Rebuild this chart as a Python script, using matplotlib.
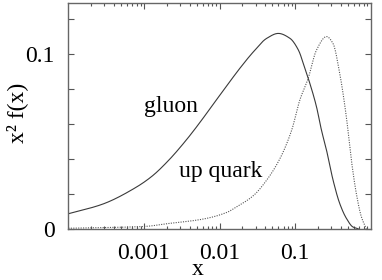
import numpy as np
import matplotlib.pyplot as plt
from matplotlib.ticker import FixedLocator, FuncFormatter, LogLocator, NullFormatter

# ==========================================
# DATA
# ==========================================

gluon_x = [1.0e-4, 2.8e-4, 7.7e-4, 1.27e-3, 2.1e-3, 3.5e-3, 4.7e-3, 0.0113,
           0.0188, 0.028, 0.042, 0.0597, 0.085, 0.11, 0.134, 0.156,
           0.191, 0.222, 0.259, 0.316, 0.387, 0.474, 0.58, 0.68]
gluon_y = [0.0086, 0.014, 0.0235, 0.030, 0.039, 0.050, 0.057, 0.0794,
           0.0922, 0.1013, 0.109, 0.1118, 0.109, 0.1023, 0.0918, 0.0832,
           0.0698, 0.0565, 0.045, 0.0279, 0.0145, 0.006, 0.001, 0.0]

quark_x = [1.0e-4, 1.0e-3, 2.1e-3, 5.8e-3, 0.013, 0.0153, 0.028, 0.042,
           0.063, 0.0898, 0.115, 0.148, 0.191, 0.259, 0.316, 0.387,
           0.474, 0.552, 0.643, 0.748, 0.87]
quark_y = [0.0003, 0.0013, 0.003, 0.0054, 0.0097, 0.0115, 0.019, 0.0279,
           0.0403, 0.0565, 0.0737, 0.086, 0.1023, 0.110, 0.106, 0.089,
           0.064, 0.0393, 0.020, 0.0069, 0.0]

x_ticks = [0.001, 0.01, 0.1]
x_tick_labels = ["0.001", "0.01", "0.1"]
y_ticks = [0, 0.02, 0.04, 0.06, 0.08, 0.1, 0.12]
y_tick_labels = {0: "0", 0.1: "0.1"}

# ==========================================
# SMOOTH CURVES (monotone cubic in log x)
# ==========================================

def pchip(xs, ys, n=500):
    x = np.log10(xs)
    y = np.asarray(ys, float)
    h = np.diff(x)
    d = np.diff(y) / h
    m = np.zeros_like(y)
    for i in range(1, len(y) - 1):
        if d[i - 1] * d[i] > 0:
            w1 = 2 * h[i] + h[i - 1]
            w2 = h[i] + 2 * h[i - 1]
            m[i] = (w1 + w2) / (w1 / d[i - 1] + w2 / d[i])
    m[0] = d[0]
    m[-1] = d[-1]
    grid = np.linspace(x[0], x[-1], n)
    idx = np.clip(np.searchsorted(x, grid) - 1, 0, len(h) - 1)
    t = (grid - x[idx]) / h[idx]
    h00 = 2 * t**3 - 3 * t**2 + 1
    h10 = t**3 - 2 * t**2 + t
    h01 = -2 * t**3 + 3 * t**2
    h11 = t**3 - t**2
    out = (h00 * y[idx] + h10 * h[idx] * m[idx]
           + h01 * y[idx + 1] + h11 * h[idx] * m[idx + 1])
    return 10 ** grid, np.clip(out, 0, None)

gx, gy = pchip(gluon_x, gluon_y)
qx, qy = pchip(quark_x, quark_y)

# ==========================================
# FIGURE
# ==========================================

plt.rcParams["font.family"] = ["Liberation Serif", "DejaVu Serif"]
FS = 17

fig = plt.figure(figsize=(3.82, 2.8), dpi=100)
ax = fig.add_axes([0.179, 0.183, 0.791, 0.805])

ax.plot(gx, gy, color="#3a3a3a", lw=0.8, ls="-")
ax.plot(qx, qy, color="#555555", lw=0.8, ls=(0, (1, 1.2)))

ax.set_xscale("log")
ax.set_xlim(1.0e-4, 0.99)
ax.set_ylim(0, 0.129)

# ==========================================
# TICKS
# ==========================================

ax.xaxis.set_major_locator(FixedLocator(x_ticks))
ax.xaxis.set_major_formatter(FuncFormatter(
    lambda v, p: x_tick_labels[x_ticks.index(min(x_ticks, key=lambda t: abs(t - v)))]))
ax.xaxis.set_minor_locator(LogLocator(base=10, subs=np.arange(2, 10), numticks=20))
ax.xaxis.set_minor_formatter(NullFormatter())

ax.yaxis.set_major_locator(FixedLocator(y_ticks))
ax.yaxis.set_major_formatter(FuncFormatter(
    lambda v, p: next((s for k, s in y_tick_labels.items() if abs(k - v) < 1e-9), "")))

ax.tick_params(which="both", direction="in", top=True, right=True,
               color="#555555", labelsize=FS, width=0.8)
ax.tick_params(which="major", length=4)
ax.tick_params(which="minor", length=2.5)
ax.tick_params(axis="x", pad=10)
ax.tick_params(axis="y", pad=10)

for s in ax.spines.values():
    s.set_color("#666666")
    s.set_linewidth(1.0)

# ==========================================
# LABELS
# ==========================================

ax.text(2.24e-3, 0.0697, "gluon", fontsize=FS, ha="center", va="center")
ax.text(0.0102, 0.0325, "up quark", fontsize=FS, ha="center", va="center")

ax.set_xlabel("x", fontsize=FS)
ax.xaxis.set_label_coords(0.429, -0.135)
ax.set_ylabel("x² f(x)", fontsize=FS)
ax.yaxis.set_label_coords(-0.135, 0.513)

fig.savefig("out.png", dpi=100)
